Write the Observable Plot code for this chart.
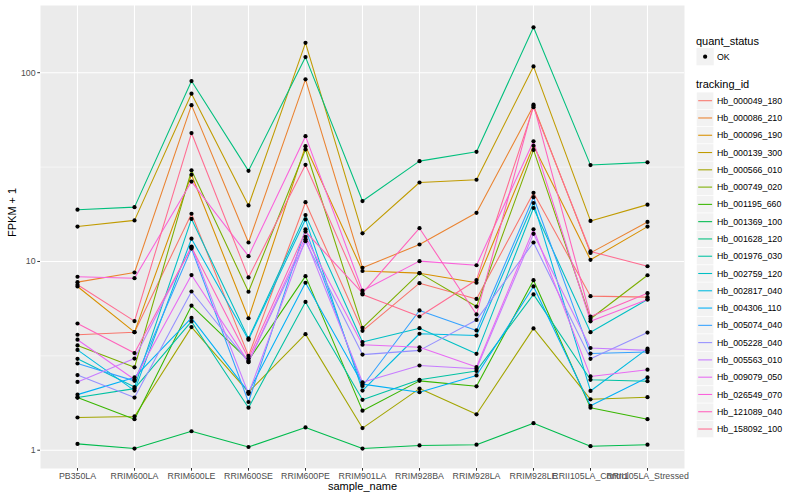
<!DOCTYPE html>
<html>
<head>
<meta charset="utf-8">
<script src="https://cdn.jsdelivr.net/npm/d3@7"></script>
<script src="https://cdn.jsdelivr.net/npm/@observablehq/plot@0.6"></script>
<style>
  body { margin: 0; background: white; }
  #wrap { position: relative; width: 800px; height: 500px; font-family: "Liberation Sans", Arial, Helvetica, sans-serif; }
  #legend { position: absolute; left: 690px; top: 0; }
</style>
</head>
<body>
<div id="wrap"></div>
<script>
const samples = ["PB350LA","RRIM600LA","RRIM600LE","RRIM600SE","RRIM600PE","RRIM901LA","RRIM928BA","RRIM928LA","RRIM928LE","RRII105LA_Control","RRII105LA_Stressed"];

const trackingIds = ["Hb_000049_180","Hb_000086_210","Hb_000096_190","Hb_000139_300","Hb_000566_010","Hb_000749_020","Hb_001195_660","Hb_001369_100","Hb_001628_120","Hb_001976_030","Hb_002759_120","Hb_002817_040","Hb_004306_110","Hb_005074_040","Hb_005228_040","Hb_005563_010","Hb_009079_050","Hb_026549_070","Hb_121089_040","Hb_158092_100"];

const hueColors = ["#F8766D","#EA8331","#D89000","#C09B00","#A3A500","#7CAE00","#39B600","#00BB4E","#00BF7D","#00C1A3","#00BFC4","#00BAE0","#00B0F6","#35A2FF","#9590FF","#C77CFF","#E76BF3","#FA62DB","#FF62BC","#FF6C91"];

// FPKM + 1 per tracking id, one row per id, columns in sample order
const fpkmPlus1 = [
  [4.09, 4.22, 17.9, 3.16, 20.6, 4.29, 7.67, 6.33, 23.1, 6.55, 6.47],
  [7.77, 8.74, 67.3, 12.6, 92.2, 9.26, 12.3, 18.1, 66.8, 11.1, 16.2],
  [7.37, 4.22, 28.8, 5.0, 40.8, 8.9, 8.67, 7.71, 41.0, 10.2, 15.3],
  [15.3, 16.5, 77.4, 19.8, 144, 14.1, 26.2, 27.1, 108, 16.4, 20.0],
  [1.49, 1.51, 4.49, 2.03, 4.12, 1.31, 2.12, 1.55, 4.42, 1.86, 1.91],
  [3.59, 2.75, 30.4, 6.91, 39.2, 4.45, 8.67, 5.77, 39.0, 4.97, 8.45],
  [1.90, 1.46, 5.83, 2.99, 8.36, 1.62, 2.33, 2.18, 7.96, 1.68, 1.46],
  [1.08, 1.02, 1.26, 1.04, 1.32, 1.02, 1.06, 1.07, 1.39, 1.05, 1.07],
  [18.8, 19.4, 90.3, 30.2, 121, 20.9, 34.0, 38.1, 174, 32.4, 33.5],
  [1.90, 2.12, 4.81, 1.68, 6.10, 1.85, 2.36, 2.63, 6.69, 2.36, 2.32],
  [3.05, 2.16, 16.8, 3.91, 17.6, 3.74, 4.43, 3.24, 19.2, 4.22, 6.29],
  [3.40, 2.07, 13.2, 3.85, 16.7, 2.07, 4.14, 4.05, 20.4, 2.06, 3.45],
  [1.97, 2.43, 5.02, 2.03, 7.71, 2.24, 2.03, 2.49, 7.37, 1.72, 2.43],
  [2.88, 2.33, 11.7, 1.80, 14.8, 2.19, 5.50, 4.31, 21.9, 3.25, 3.31],
  [2.50, 1.90, 6.93, 2.93, 12.8, 3.21, 3.38, 4.90, 12.6, 3.05, 4.20],
  [2.30, 3.06, 12.0, 1.99, 13.1, 2.29, 2.81, 2.70, 14.0, 3.48, 3.38],
  [3.85, 2.37, 8.47, 2.93, 13.5, 3.62, 3.51, 2.76, 14.8, 2.46, 2.67],
  [8.30, 8.15, 26.5, 10.67, 46.1, 7.0, 10.04, 9.55, 43.3, 4.82, 6.29],
  [4.69, 3.27, 11.9, 3.07, 14.4, 6.79, 15.0, 5.24, 67.7, 5.11, 6.79],
  [7.52, 4.83, 47.9, 8.23, 32.5, 6.69, 5.11, 7.97, 65.7, 11.3, 9.43]
];

const yTicks = [1, 10, 100];
const yMinor = [3.1623, 31.623];

const data = [];
trackingIds.forEach((id, i) => {
  samples.forEach((s, j) => {
    data.push({id, sample: s, value: fpkmPlus1[i][j], status: "OK"});
  });
});

const chart = Plot.plot({
  width: 800,
  height: 500,
  marginLeft: 40,
  marginRight: 116,
  marginTop: 5,
  marginBottom: 32,
  style: {fontFamily: '"Liberation Sans", Arial, Helvetica, sans-serif', fontSize: "8.8px", background: "white", color: "#4D4D4D"},
  x: {type: "point", domain: samples, padding: 0.6, label: null},
  y: {type: "log", domain: [0.8, 227], label: null},
  color: {domain: trackingIds, range: hueColors},
  marks: [
    Plot.frame({fill: "#EBEBEB", stroke: null}),
    Plot.ruleY(yMinor, {stroke: "white", strokeWidth: 0.55}),
    Plot.ruleY(yTicks, {stroke: "white", strokeWidth: 1.1}),
    Plot.ruleX(samples, {stroke: "white", strokeWidth: 1.1}),
    Plot.line(data, {x: "sample", y: "value", z: "id", stroke: "id", strokeWidth: 1.07}),
    Plot.dot(data, {x: "sample", y: "value", r: 2.1, fill: "black", stroke: null}),
    Plot.axisY(yTicks, {tickFormat: d => String(d), tickSize: 2.7, tickPadding: 2.2, stroke: "#333333", fill: "#4D4D4D", label: null, fontSize: 8.8}),
    Plot.axisX(samples, {tickSize: 2.7, tickPadding: 2.0, stroke: "#333333", fill: "#4D4D4D", label: null, fontSize: 8.8}),
    Plot.text(["FPKM + 1"], {frameAnchor: "left", dx: -28, rotate: -90, fontSize: 11, fill: "black"}),
    Plot.text(["sample_name"], {frameAnchor: "bottom", dy: 21.5, fontSize: 11, fill: "black"})
  ]
});

const wrap = document.getElementById("wrap");
wrap.appendChild(chart);

// Legend (guide) built from the plot's color scale
const colorScale = chart.scale("color");
const colorOf = d3.scaleOrdinal(colorScale.domain, colorScale.range);
const lg = d3.select(wrap).append("svg")
  .attr("id", "legend")
  .attr("width", 110)
  .attr("height", 500)
  .style("font-family", '"Liberation Sans", Arial, Helvetica, sans-serif');

lg.append("text").attr("x", 6).attr("y", 40.7).attr("dy", "0.35em")
  .attr("font-size", 11).attr("fill", "black").text("quant_status");
lg.append("rect").attr("x", 6.5).attr("y", 56.7 - 8.64).attr("width", 17.28).attr("height", 17.28).attr("fill", "#F2F2F2");
lg.append("circle").attr("cx", 6.5 + 8.64).attr("cy", 56.7).attr("r", 2.1).attr("fill", "black");
lg.append("text").attr("x", 27).attr("y", 56.7).attr("dy", "0.35em")
  .attr("font-size", 8.8).attr("fill", "black").text("OK");

lg.append("text").attr("x", 6).attr("y", 84).attr("dy", "0.35em")
  .attr("font-size", 11).attr("fill", "black").text("tracking_id");

trackingIds.forEach((id, i) => {
  const cy = 100.7 + 17.28 * i;
  lg.append("rect").attr("x", 6.5).attr("y", cy - 8.64).attr("width", 17.28).attr("height", 17.28)
    .attr("fill", "#F2F2F2").attr("stroke", "white").attr("stroke-width", 0.6);
  lg.append("line").attr("x1", 8.2).attr("x2", 22.1).attr("y1", cy).attr("y2", cy)
    .attr("stroke", colorOf(id)).attr("stroke-width", 1.07);
  lg.append("text").attr("x", 27).attr("y", cy).attr("dy", "0.35em")
    .attr("font-size", 8.8).attr("fill", "black").text(id);
});
</script>
</body>
</html>
